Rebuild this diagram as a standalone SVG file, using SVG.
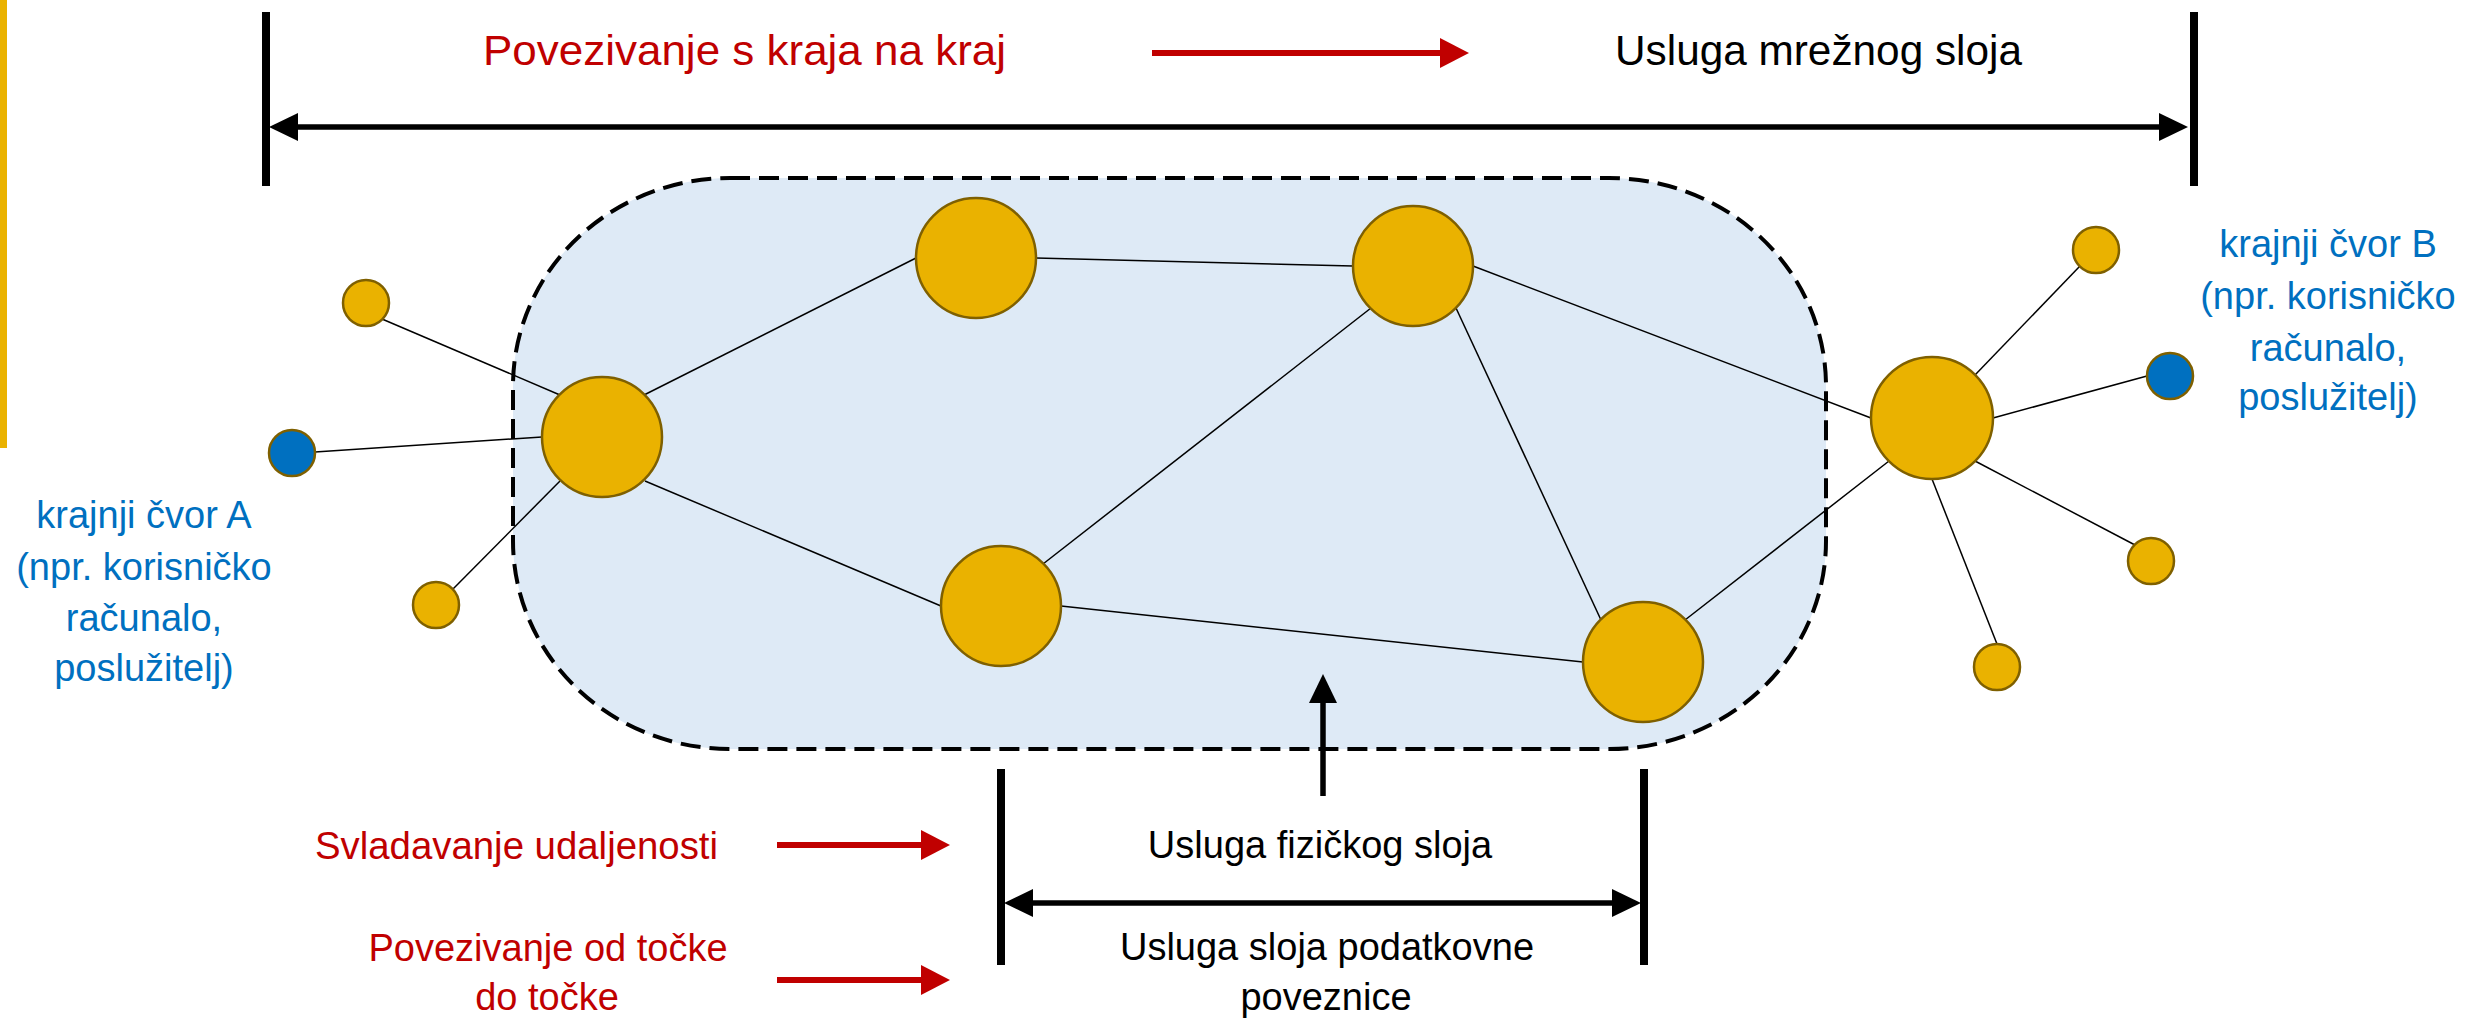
<svg xmlns="http://www.w3.org/2000/svg" width="2466" height="1019" viewBox="0 0 2466 1019">
<style>
.big{fill:#EAB200;stroke:#7F6000;stroke-width:2.5}
.small{fill:#EAB200;stroke:#7F6000;stroke-width:2.5}
.blue{fill:#0070C0;stroke:#7F6000;stroke-width:2.5}
.edge{stroke:#000;stroke-width:1.5;fill:none}
.bar{stroke:#000;stroke-width:8;fill:none}
.karr{stroke:#000;stroke-width:5.5;fill:none}
.rarr{stroke:#C00000;stroke-width:6;fill:none}
text{font-family:"Liberation Sans",Arial,sans-serif}
.t43{font-size:43px}
.t38{font-size:38px}
.red{fill:#C00000}
.blk{fill:#000}
.bl{fill:#0070C0}
</style>
<defs>
<marker id="kh" markerUnits="userSpaceOnUse" viewBox="0 0 29 28" markerWidth="29" markerHeight="28" refX="19" refY="14" orient="auto-start-reverse"><path d="M0,0 L29,14 L0,28 z" fill="#000"/></marker>
<marker id="rh" markerUnits="userSpaceOnUse" viewBox="0 0 29 30" markerWidth="29" markerHeight="30" refX="19" refY="15" orient="auto-start-reverse"><path d="M0,0 L29,15 L0,30 z" fill="#C00000"/></marker>
</defs>
<rect x="0" y="0" width="7" height="448" fill="#EAB200"/>
<g id="cloud">
<rect x="513" y="178" width="1313" height="571" rx="217" ry="208" fill="#DEEAF6" stroke="#000" stroke-width="4" stroke-dasharray="20 9"/>
</g>
<g id="connectors">
<line class="edge" x1="382" y1="319" x2="560" y2="395"/>
<line class="edge" x1="315" y1="452" x2="542" y2="437"/>
<line class="edge" x1="453" y1="589" x2="560" y2="481"/>
<line class="edge" x1="644" y1="395" x2="916" y2="258"/>
<line class="edge" x1="645" y1="481" x2="941" y2="606"/>
<line class="edge" x1="1036" y1="258" x2="1353" y2="266"/>
<line class="edge" x1="1371" y1="308" x2="1043" y2="564"/>
<line class="edge" x1="1456" y1="308" x2="1601" y2="620"/>
<line class="edge" x1="1473" y1="266" x2="1871" y2="418"/>
<line class="edge" x1="1061" y1="606" x2="1583" y2="662"/>
<line class="edge" x1="1685" y1="620" x2="1889" y2="461"/>
<line class="edge" x1="1975" y1="375" x2="2080" y2="266"/>
<line class="edge" x1="1993" y1="418" x2="2147" y2="376"/>
<line class="edge" x1="1975" y1="461" x2="2135" y2="545"/>
<line class="edge" x1="1932" y1="479" x2="1997" y2="644"/>
<line class="bar" x1="266" y1="12" x2="266" y2="186"/>
<line class="bar" x1="2194" y1="12" x2="2194" y2="186"/>
<line class="karr" x1="279" y1="127" x2="2178" y2="127" marker-start="url(#kh)" marker-end="url(#kh)"/>
<line class="rarr" x1="1152" y1="53" x2="1459" y2="53" marker-end="url(#rh)"/>
<line class="rarr" x1="777" y1="845" x2="940" y2="845" marker-end="url(#rh)"/>
<line class="rarr" x1="777" y1="980" x2="940" y2="980" marker-end="url(#rh)"/>
<line class="bar" x1="1001" y1="769" x2="1001" y2="965"/>
<line class="bar" x1="1644" y1="769" x2="1644" y2="965"/>
<line class="karr" x1="1014" y1="903" x2="1631" y2="903" marker-start="url(#kh)" marker-end="url(#kh)"/>
<line class="karr" x1="1323" y1="796" x2="1323" y2="684" marker-end="url(#kh)"/>
</g>
<g id="n1"><circle class="big" cx="602" cy="437" r="60"/></g>
<g id="n2"><circle class="big" cx="976" cy="258" r="60"/></g>
<g id="n3"><circle class="big" cx="1413" cy="266" r="60"/></g>
<g id="n4"><circle class="big" cx="1001" cy="606" r="60"/></g>
<g id="n5"><circle class="big" cx="1643" cy="662" r="60"/></g>
<g id="n6"><circle class="big" cx="1932" cy="418" r="61"/></g>
<g id="a1"><circle class="small" cx="366" cy="303" r="23"/></g>
<g id="hostA"><circle class="blue" cx="292" cy="453" r="23"/></g>
<g id="a2"><circle class="small" cx="436" cy="605" r="23"/></g>
<g id="b1"><circle class="small" cx="2096" cy="250" r="23"/></g>
<g id="hostB"><circle class="blue" cx="2170" cy="376" r="23"/></g>
<g id="b2"><circle class="small" cx="2151" cy="561" r="23"/></g>
<g id="b3"><circle class="small" cx="1997" cy="667" r="23"/></g>
<g id="labels">
<text class="t43 red" x="483" y="65" textLength="523" lengthAdjust="spacingAndGlyphs">Povezivanje s kraja na kraj</text>
<text class="t43 blk" x="1615" y="65" textLength="407" lengthAdjust="spacingAndGlyphs">Usluga mrežnog sloja</text>
<g class="t38 bl" text-anchor="middle">
<text x="144" y="528">krajnji čvor A</text>
<text x="144" y="580">(npr. korisničko</text>
<text x="144" y="631">računalo,</text>
<text x="144" y="681">poslužitelj)</text>
<text x="2328" y="257">krajnji čvor B</text>
<text x="2328" y="309">(npr. korisničko</text>
<text x="2328" y="361">računalo,</text>
<text x="2328" y="410">poslužitelj)</text>
</g>
<text class="t38 red" x="315" y="859" textLength="403" lengthAdjust="spacingAndGlyphs">Svladavanje udaljenosti</text>
<g class="t38 red" text-anchor="middle">
<text x="548" y="961">Povezivanje od točke</text>
<text x="547" y="1010">do točke</text>
</g>
<g class="t38 blk" text-anchor="middle">
<text x="1320" y="858">Usluga fizičkog sloja</text>
<text x="1327" y="960">Usluga sloja podatkovne</text>
<text x="1326" y="1010">poveznice</text>
</g>
</g>
</svg>
